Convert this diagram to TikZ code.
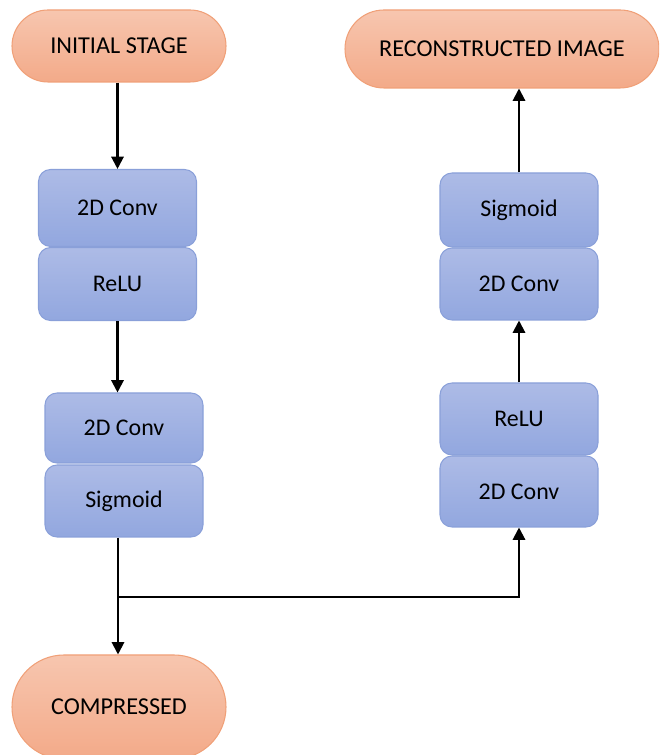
\documentclass[tikz,border=0pt]{standalone}
\usepackage{fontspec}
\setmainfont{Carlito}
\usetikzlibrary{arrows.meta, positioning, calc}
\definecolor{mOrangeTop}{HTML}{F7C6AF}
\definecolor{mOrangeBot}{HTML}{F3AA89}
\definecolor{mOrangeLine}{HTML}{F0A078}
\definecolor{mBlueTop}{HTML}{ADBBE6}
\definecolor{mBlueBot}{HTML}{92A7DF}
\definecolor{mBlueLine}{HTML}{8AA0D9}

\begin{document}
\begin{tikzpicture}[
    term/.style={draw=mOrangeLine, line width=0.6pt, rounded corners=0.72cm,
      top color=mOrangeTop, bottom color=mOrangeBot,
      minimum width=4.28cm, minimum height=1.44cm,
      font=\fontsize{13.8}{16}\selectfont},
    layer/.style={draw=mBlueLine, line width=0.6pt, rounded corners=0.24cm,
      top color=mBlueTop, bottom color=mBlueBot,
      minimum width=3.16cm, minimum height=1.46cm,
      font=\fontsize{13.6}{16}\selectfont},
    flow/.style={-{Triangle[length=7pt, width=7pt]}, line width=1.2pt}
  ]
    \useasboundingbox (0,0) rectangle (13.18,15.1);
    \begin{scope}
    \clip (0,0) rectangle (13.18,15.1);
    % end points
    \node[term] (init) at (2.38,14.18) {INITIAL STAGE};
    \node[term, minimum width=6.28cm, minimum height=1.56cm, rounded corners=0.78cm]
      (recon) at (10.04,14.12) {RECONSTRUCTED IMAGE};
    \node[term, minimum height=2.08cm, rounded corners=1.04cm] (comp) at (2.38,0.96) {COMPRESSED};
    % encoder
    \node[layer, minimum height=1.54cm] (conv1) at (2.35,10.94) {2D Conv};
    \node[layer] (relu1) at (2.35,9.42) {ReLU};
    \node[layer, minimum height=1.4cm] (conv2) at (2.48,6.54) {2D Conv};
    \node[layer, minimum height=1.44cm] (sig2) at (2.48,5.08) {Sigmoid};
    % decoder
    \node[layer, minimum height=1.48cm] (sig3) at (10.38,10.9) {Sigmoid};
    \node[layer, minimum height=1.44cm] (conv3) at (10.38,9.42) {2D Conv};
    \node[layer, minimum height=1.44cm] (relu4) at (10.38,6.72) {ReLU};
    \node[layer, minimum height=1.42cm] (conv4) at (10.38,5.27) {2D Conv};
    \end{scope}
    % connectors
    \coordinate (split) at (2.36,3.16);
    \draw[flow] (init.south -| conv1.north) -- (conv1.north);
    \draw[flow] (relu1.south) -- (relu1.south |- conv2.north);
    \draw[flow] (sig2.south -| split) -- (split) -- (split |- comp.north);
    \draw[flow] (split) -| (conv4.south);
    \draw[flow] (relu4.north) -- (conv3.south);
    \draw[flow] (sig3.north) -- (sig3.north |- recon.south);
  \end{tikzpicture}
\end{document}
